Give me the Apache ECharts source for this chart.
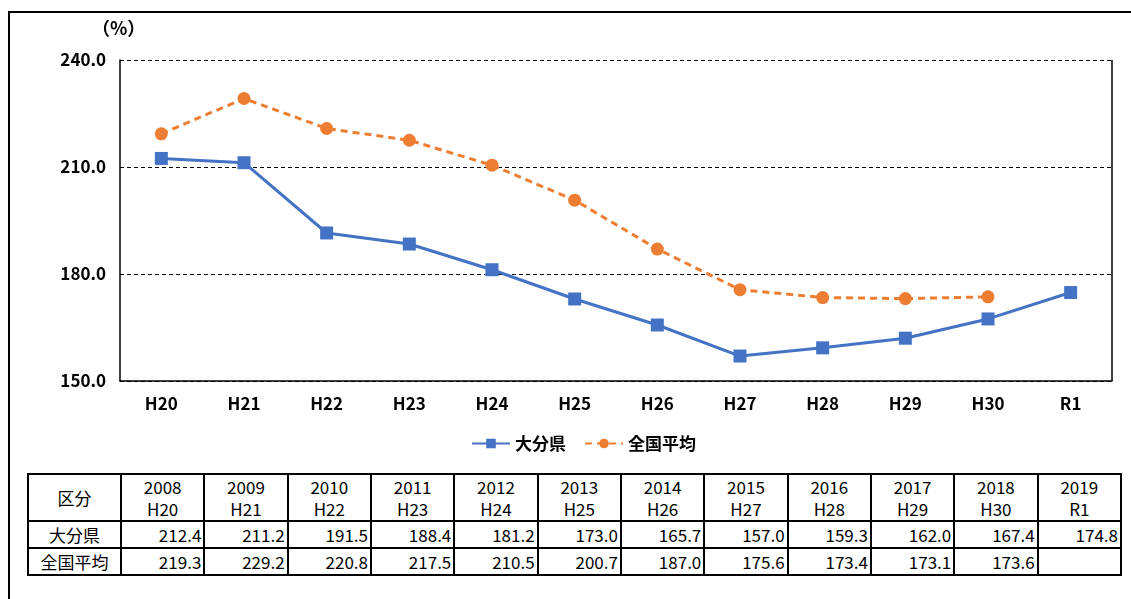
<!DOCTYPE html>
<html>
<head>
<meta charset="utf-8">
<script src="https://cdn.jsdelivr.net/npm/echarts@6/dist/echarts.min.js"></script>
<style>
  body { margin: 0; background: #fff; font-family: "Noto Sans CJK JP", sans-serif; }
  .frame { position: absolute; left: 8px; top: 11px; width: 1140px; height: 620px; border: 2px solid #000; box-sizing: border-box; }
  #chart { position: absolute; left: 0; top: 0; width: 1131px; height: 470px; }
  table.data { position: absolute; left: 27px; top: 473px; width: 1095px; table-layout: fixed; border-collapse: collapse; font-size: 17px; color: #000; }
  table.data td { border: 2px solid #000; padding: 0 2px; line-height: 22px; overflow: hidden; white-space: nowrap; }
  table.data tr.hd td { height: 45px; text-align: center; }
  table.data tr.row td { height: 25px; text-align: right; }
  table.data td.lab { text-align: center !important; }
</style>
</head>
<body>
<div class="frame"></div>
<div id="chart"></div>
<table class="data" id="tbl"></table>
<script>
// 年度（和暦・西暦）
var categories = ["H20", "H21", "H22", "H23", "H24", "H25", "H26", "H27", "H28", "H29", "H30", "R1"];
var years = ["2008", "2009", "2010", "2011", "2012", "2013", "2014", "2015", "2016", "2017", "2018", "2019"];
// 大分県
var oita = [212.4, 211.2, 191.5, 188.4, 181.2, 173.0, 165.7, 157.0, 159.3, 162.0, 167.4, 174.8];
// 全国平均（R1はデータなし）
var national = [219.3, 229.2, 220.8, 217.5, 210.5, 200.7, 187.0, 175.6, 173.4, 173.1, 173.6, null];
var seriesNames = ["大分県", "全国平均"];
var yTicks = [150, 180, 210, 240];

var myecharts = echarts.init(document.getElementById("chart"));
var Option = {
  animation: false,
  textStyle: { fontFamily: "Noto Sans CJK JP" },
  grid: { left: 120, top: 60, width: 992, height: 321 },
  graphic: [
    {
      type: "text", left: 92, top: 19,
      style: { text: "（%）", fontSize: 18, fontWeight: "bold", fontFamily: "Noto Sans CJK JP", fill: "#000" }
    },
    // 右側の枠線
    { type: "line", shape: { x1: 1112, y1: 60, x2: 1112, y2: 381 }, style: { stroke: "#000", lineWidth: 1.5 } }
  ],
  legend: {
    top: 430,
    left: 466,
    itemWidth: 38,
    itemHeight: 12,
    itemGap: 18,
    textStyle: { fontSize: 17, fontWeight: "bold", color: "#000" },
    data: seriesNames
  },
  xAxis: {
    type: "category",
    data: categories,
    boundaryGap: true,
    axisLine: { show: true, lineStyle: { color: "#000", width: 1.5 } },
    axisTick: { show: false },
    axisLabel: { color: "#000", fontSize: 17, fontWeight: "bold", margin: 14, fontFamily: "Liberation Sans Narrow, Noto Sans CJK JP" }
  },
  yAxis: {
    type: "value",
    min: yTicks[0],
    max: yTicks[yTicks.length - 1],
    interval: 30,
    axisLine: { show: true, lineStyle: { color: "#000", width: 1.5 } },
    axisTick: { show: false },
    axisLabel: {
      color: "#000", fontSize: 17, fontWeight: "bold", margin: 14,
      formatter: function(v) { return v.toFixed(1); }
    },
    splitLine: { show: true, lineStyle: { color: "#000", type: [4, 3], width: 1 } }
  },
  series: [
    {
      name: seriesNames[0],
      type: "line",
      data: oita,
      symbol: "rect",
      symbolSize: 13,
      itemStyle: { color: "#4472C4" },
      lineStyle: { color: "#4472C4", width: 3 }
    },
    {
      name: seriesNames[1],
      type: "line",
      data: national,
      symbol: "circle",
      symbolSize: 13,
      itemStyle: { color: "#ED7D31" },
      lineStyle: { color: "#ED7D31", width: 3, type: [7, 5] }
    }
  ]
};
myecharts.setOption(Option);

// データ表
var tbl = document.getElementById("tbl");
var html = '<colgroup><col style="width:93px">';
for (var c = 0; c < years.length; c++) html += '<col>';
html += '</colgroup><tr class="hd"><td class="lab">区分</td>';
for (var i = 0; i < years.length; i++) {
  html += '<td>' + years[i] + '<br>' + categories[i] + '</td>';
}
html += '</tr>';
var rows = [oita, national];
for (var r = 0; r < rows.length; r++) {
  html += '<tr class="row"><td class="lab">' + seriesNames[r] + '</td>';
  for (var j = 0; j < rows[r].length; j++) {
    html += '<td>' + (rows[r][j] == null ? '' : rows[r][j].toFixed(1)) + '</td>';
  }
  html += '</tr>';
}
tbl.innerHTML = html;
</script>
</body>
</html>
